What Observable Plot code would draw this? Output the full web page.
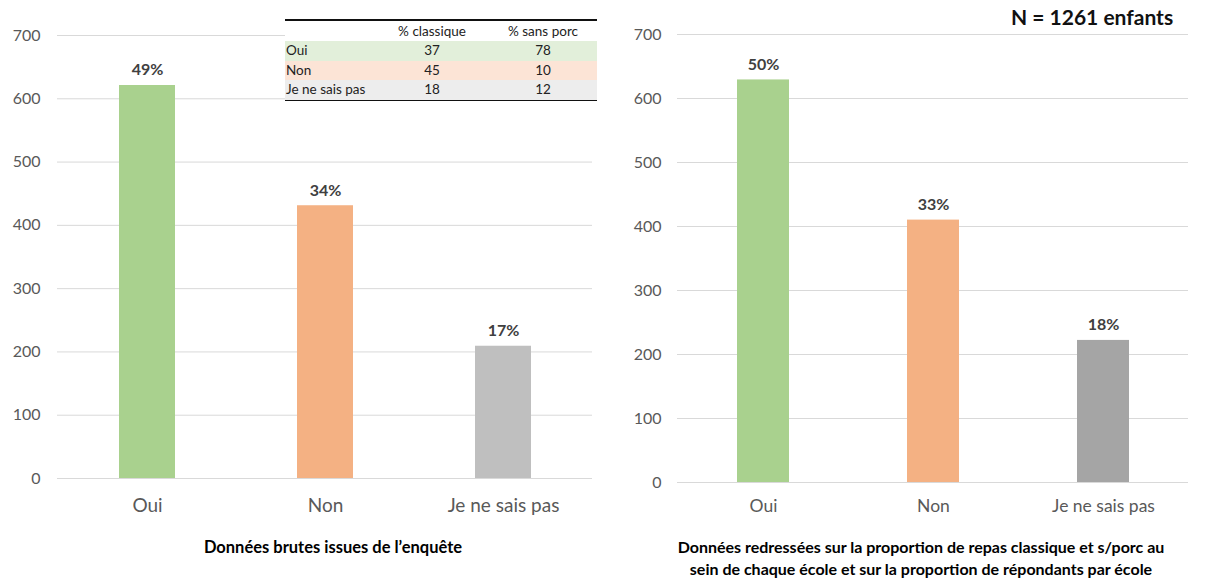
<!DOCTYPE html>
<html><head><meta charset="utf-8">
<script src="https://cdn.jsdelivr.net/npm/d3@7"></script>
<script src="https://cdn.jsdelivr.net/npm/@observablehq/plot@0.6"></script>
<style>
body{margin:0;background:#fff;font-family:Lato,"Open Sans",sans-serif;}
#wrap{position:relative;width:1205px;height:578px;overflow:hidden;background:#fff}
.abs{position:absolute;white-space:nowrap}
</style></head><body><div id="wrap"></div>
<script>
const categories = ["Oui", "Non", "Je ne sais pas"];
const rawValues = [621, 431, 209];
const rawLabels = ["49%", "34%", "17%"];
const adjValues = [629, 410, 222];
const adjLabels = ["50%", "33%", "18%"];
const yTicks = [0, 100, 200, 300, 400, 500, 600, 700];
const rawColors = ["#a9d18e", "#f4b183", "#bfbfbf"];
const adjColors = ["#a9d18e", "#f4b183", "#a5a5a5"];
const tableHeader = ["% classique", "% sans porc"];
const tableRows = ["Oui", "Non", "Je ne sais pas"];
const pctClassique = [37, 45, 18];
const pctSansPorc = [78, 10, 12];
const tableColors = ["#e2efda", "#fce4d6", "#ededed"];
const captionRaw = ["Données brutes issues de l’enquête"];
const captionAdj = ["Données redressées sur la proportion de repas classique et s/porc au", "sein de chaque école et sur la proportion de répondants par école"];
const nLabel = "N = 1261 enfants";

const wrap = document.getElementById("wrap");

function chart(values, labels, colors, o) {
  const data = categories.map((c, i) => ({cat: c, v: values[i], lab: labels[i], col: colors[i]}));
  return Plot.plot({
    width: 600, height: o.height,
    marginLeft: o.ml, marginRight: o.mr, marginTop: o.mt, marginBottom: o.mb,
    style: {fontFamily: "Lato, sans-serif", background: "transparent", color: "#595959", overflow: "visible"},
    x: {domain: categories, padding: 0, label: null},
    y: {domain: [0, 700], label: null},
    color: {type: "identity"},
    marks: [
      Plot.gridY(yTicks, {stroke: "#d9d9d9", strokeOpacity: 1}),
      Plot.barY(data, {x: "cat", y: "v", fill: "col", insetLeft: o.inset, insetRight: o.inset}),
      Plot.text(data, {x: "cat", y: "v", text: "lab", dy: -10, lineAnchor: "bottom", fontWeight: "bold", fontSize: 16, fill: "#404040"}),
      Plot.axisY(yTicks, {tickSize: 0, tickPadding: o.ytp, fontSize: 16, label: null}),
      Plot.axisX({tickSize: 0, tickPadding: o.xtp, fontSize: o.xfs, label: null})
    ]
  });
}

function place(el, left, top) {
  const d = document.createElement("div");
  d.className = "abs";
  d.style.left = left + "px"; d.style.top = top + "px";
  d.appendChild(el);
  wrap.appendChild(d);
  return d;
}

place(chart(rawValues, rawLabels, rawColors, {height: 528, ml: 57, mr: 8, mt: 35, mb: 50, inset: 61, ytp: 17, xtp: 20, xfs: 19}), 0, 0);
place(chart(adjValues, adjLabels, adjColors, {height: 532, ml: 77, mr: 12, mt: 34, mb: 50, inset: 59, ytp: 16, xtp: 17, xfs: 17.5}), 600, 0);

function div(css, text) {
  const d = document.createElement("div");
  d.className = "abs";
  d.style.cssText += css;
  if (text !== undefined) d.textContent = text;
  wrap.appendChild(d);
  return d;
}

// inset table
div("left:285px;top:19px;width:312px;height:83px;background:#fff;");
div("left:285px;top:19px;width:312px;height:2px;background:#111;");
div("left:285px;top:99px;width:312px;height:2px;background:#111;");
const colCenters = [432, 543];
tableHeader.forEach((h, j) => {
  div(`left:${colCenters[j] - 60}px;top:23px;width:120px;text-align:center;font-size:13.5px;color:#222;line-height:17px;`, h);
});
tableRows.forEach((r, i) => {
  const top = 41 + i * 19.5;
  div(`left:285px;top:${top}px;width:312px;height:19.5px;background:${tableColors[i]};`);
  div(`left:286px;top:${top + 1}px;font-size:13.5px;color:#222;line-height:17px;`, r);
  div(`left:${colCenters[0] - 40}px;top:${top + 1}px;width:80px;text-align:center;font-size:13.5px;color:#222;line-height:17px;`, pctClassique[i]);
  div(`left:${colCenters[1] - 40}px;top:${top + 1}px;width:80px;text-align:center;font-size:13.5px;color:#222;line-height:17px;`, pctSansPorc[i]);
});

// captions
captionRaw.forEach((t, i) => div(`left:83px;width:500px;top:${536 + i * 22}px;text-align:center;font-size:16.5px;font-weight:bold;color:#000;line-height:22px;`, t));
captionAdj.forEach((t, i) => div(`left:621px;width:600px;top:${536 + i * 22}px;text-align:center;font-size:16px;font-weight:bold;color:#000;line-height:22px;`, t));
div("left:1011px;top:4px;font-size:21px;font-weight:bold;color:#111;line-height:26px;", nLabel);
</script></body></html>
